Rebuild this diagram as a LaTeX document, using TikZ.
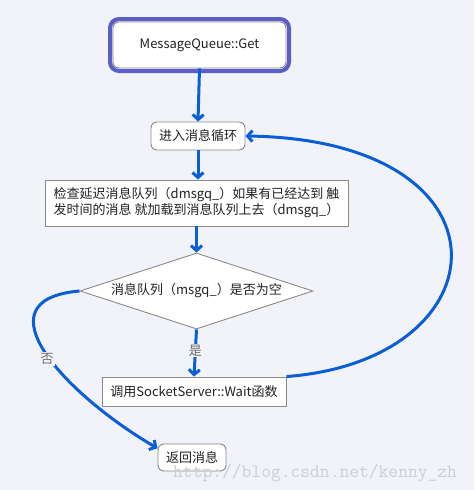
\documentclass[tikz,border=0pt]{standalone}
\usepackage{fontspec}
\setmainfont{Noto Sans CJK SC}
\usetikzlibrary{shapes.geometric,arrows.meta}
\definecolor{bgc}{HTML}{F2F3F9}
\definecolor{outerc}{HTML}{5A5EC6}
\definecolor{arrc}{HTML}{0A5FD6}
\definecolor{edgec}{HTML}{8A8A8A}
\definecolor{txtc}{HTML}{222222}
\definecolor{lblc}{HTML}{6E6E6E}
\definecolor{wmc}{HTML}{CDCED4}
\tikzset{
  base/.style={draw=edgec, line width=0.9pt, fill=white, text=txtc, inner sep=0pt,
    font=\fontsize{13}{16}\selectfont},
  rbox/.style={base, rounded corners=6pt},
  sbox/.style={base},
  arr/.style={draw=arrc, line width=3pt, -{Straight Barb[length=5pt,width=11pt]}},
  lbl/.style={fill=bgc, text=lblc, inner sep=1pt, font=\fontsize{13}{16}\selectfont},
}
\begin{document}
\begin{tikzpicture}[x=1pt,y=-1pt]
\fill[bgc] (0,0) rectangle (474,490);
\useasboundingbox (0,0) rectangle (474,490);
% nodes
\node[draw=outerc, line width=4pt, rounded corners=9pt, minimum width=179pt, minimum height=52pt, inner sep=0pt] (frame) at (199.5,45) {};
\node[rbox, minimum width=173pt, minimum height=46pt] (get) at (199.5,45) {MessageQueue::Get};
\node[rbox, minimum width=94pt, minimum height=28pt] (loop) at (198,136) {进入消息循环};
\node[sbox, minimum width=303pt, minimum height=46pt, align=left] (check) at (196.5,203)
  {检查延迟消息队列（dmsgq\_）如果有已经达到 触\\发时间的消息 就加载到消息队列上去（dmsgq\_）};
\node[sbox, diamond, aspect=3.07, minimum width=233pt, minimum height=76pt] (dia) at (196.5,291)
  {消息队列（msgq\_）是否为空};
\node[sbox, minimum width=184pt, minimum height=29pt] (wait) at (194,391.5) {调用SocketServer::Wait函数};
\node[rbox, minimum width=68pt, minimum height=27pt] (ret) at (192,457.5) {返回消息};
% connectors
\draw[arr] (get.south) -- (loop.north);
\draw[arr] (loop.south) -- (loop.south |- check.north);
\draw[arr] (check.south -| dia.north) -- (dia.north);
\draw[arr] (dia.south) -- (wait.north) node[lbl, pos=0.45] (yes) {是};
\draw[arr] (wait.north east) .. controls (505,360) and (520,140) .. (loop.east);
\draw[arr] (dia.west) .. controls (-25,300) and (69,397) .. (ret.165);
\node[lbl] (no) at (47,359) {否};
% watermark
\node[text=wmc, font=\ttfamily\fontsize{19}{19}\selectfont, inner sep=0pt, anchor=base west] (wm) at (173,477) {http://blog.csdn.net/kenny\_zh};
\end{tikzpicture}
\end{document}
